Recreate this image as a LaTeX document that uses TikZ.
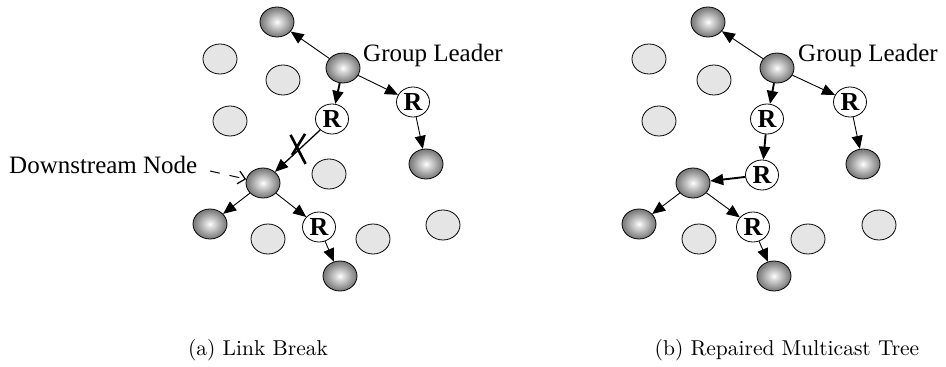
\documentclass[tikz,border=0pt]{standalone}
\usepackage{fontspec}
\newfontfamily\labelfont{Liberation Serif}
\usetikzlibrary{arrows.meta,shapes.geometric}

% radial shading for tree members: bright centre, dark rim
\pgfdeclareradialshading{darkball}{\pgfpoint{0bp}{0bp}}{%
  color(0bp)=(white);
  color(4bp)=(black!10);
  color(22bp)=(black!48);
  color(50bp)=(black!82);
  color(75bp)=(black!82)}

\tikzset{
  lbl/.style={font=\labelfont\fontsize{25}{30}\selectfont, inner sep=0pt},
  member/.style={ellipse, draw=black, line width=0.8pt, minimum width=34pt,
    minimum height=30pt, inner sep=0pt, shading=darkball},
  idle/.style={ellipse, draw=black, line width=0.8pt, fill=black!10,
    minimum width=34pt, minimum height=30pt, inner sep=0pt},
  relay/.style={ellipse, draw=black, line width=0.8pt, fill=white,
    minimum width=33pt, minimum height=30pt, inner sep=0pt,
    font=\labelfont\bfseries\fontsize{26}{26}\selectfont},
  link/.style={-{Triangle[length=13pt,width=11pt]}, line width=0.9pt},
  boldlink/.style={link, line width=1.9pt},
  midlink/.style={link, line width=1.3pt},
  pointer/.style={dash pattern=on 10pt off 10pt, line width=1pt,
    -{Straight Barb[length=7pt,width=13pt,line width=1.2pt]}},
  breakmark/.style={line width=2.6pt},
  caption/.style={scale=2.15, inner sep=0pt},
}

\begin{document}
\begin{tikzpicture}[x=1pt, y=-1pt]
\useasboundingbox (0,0) rectangle (946,367);

% ---------------- (a) link break ----------------
\node[idle] (a1) at (220,59) {};
\node[idle] (a2) at (283,80) {};
\node[idle] (a3) at (230,121) {};
\node[idle] (a4) at (329,174) {};
\node[idle] (a5) at (268,239) {};
\node[idle] (a6) at (373,239) {};
\node[idle] (a7) at (443,225) {};

\node[member] (aTop)  at (277,22) {};
\node[member] (aGL)   at (343,68) {};
\node[member] (aRt)   at (426,164) {};
\node[member] (aDn)   at (263,183) {};
\node[member] (aDl)   at (210,224) {};
\node[member] (aBot)  at (340,276) {};

\node[relay] (aR1) at (332,119) {R};
\node[relay] (aR2) at (413,102) {R};
\node[relay] (aR3) at (319,227) {R};

\draw[link]     (aGL) -- (aTop);
\draw[boldlink] (aGL) -- (aR1);
\draw[link]     (aGL) -- (aR2);
\draw[link]     (aR2) -- (aRt);
\draw[midlink]  (aR1) -- (aDn);
\draw[link]     (aDn) -- (aDl);
\draw[link]     (aDn) -- (aR3);
\draw[link]     (aR3) -- (aBot);

% broken link marker
\path (aR1) -- (aDn) coordinate[pos=0.5] (aCut);
\draw[breakmark] ([shift={(-7,-16)}]aCut) -- ([shift={(8,13)}]aCut);
\draw[breakmark] ([shift={(7.5,-17)}]aCut) -- ([shift={(-5.5,4)}]aCut);

\node[lbl, anchor=base west] (aGLtext) at (363,61) {Group Leader};
\node[lbl, anchor=base west] (aDnText) at (9,173) {Downstream Node};
\coordinate (aPtrTail) at (210,171);
\draw[pointer] (aPtrTail) -- (aDn);

\node[caption] (capA) at (258,350) {(a) Link Break};

% ---------------- (b) repaired tree ----------------
\node[idle] (b1) at (649,59) {};
\node[idle] (b2) at (714,80) {};
\node[idle] (b3) at (659,121) {};
\node[idle] (b5) at (699,239) {};
\node[idle] (b6) at (808,239) {};
\node[idle] (b7) at (879,225) {};

\node[member] (bTop)  at (708,22) {};
\node[member] (bGL)   at (777,68) {};
\node[member] (bRt)   at (863,164) {};
\node[member] (bDn)   at (693,183) {};
\node[member] (bDl)   at (639,224) {};
\node[member] (bBot)  at (774,276) {};

\node[relay] (bR1) at (767,119) {R};
\node[relay] (bR2) at (850,102) {R};
\node[relay] (bR4) at (762,175) {R};
\node[relay] (bR3) at (753,227) {R};

\draw[link]     (bGL) -- (bTop);
\draw[boldlink] (bGL) -- (bR1);
\draw[link]     (bGL) -- (bR2);
\draw[link]     (bR2) -- (bRt);
\draw[boldlink] (bR1) -- (bR4);
\draw[boldlink] (bR4) -- (bDn);
\draw[link]     (bDn) -- (bDl);
\draw[link]     (bDn) -- (bR3);
\draw[link]     (bR3) -- (bBot);

\node[lbl, anchor=base west] (bGLtext) at (798,61) {Group Leader};

\node[caption] (capB) at (787,350) {(b) Repaired Multicast Tree};
\end{tikzpicture}
\end{document}
